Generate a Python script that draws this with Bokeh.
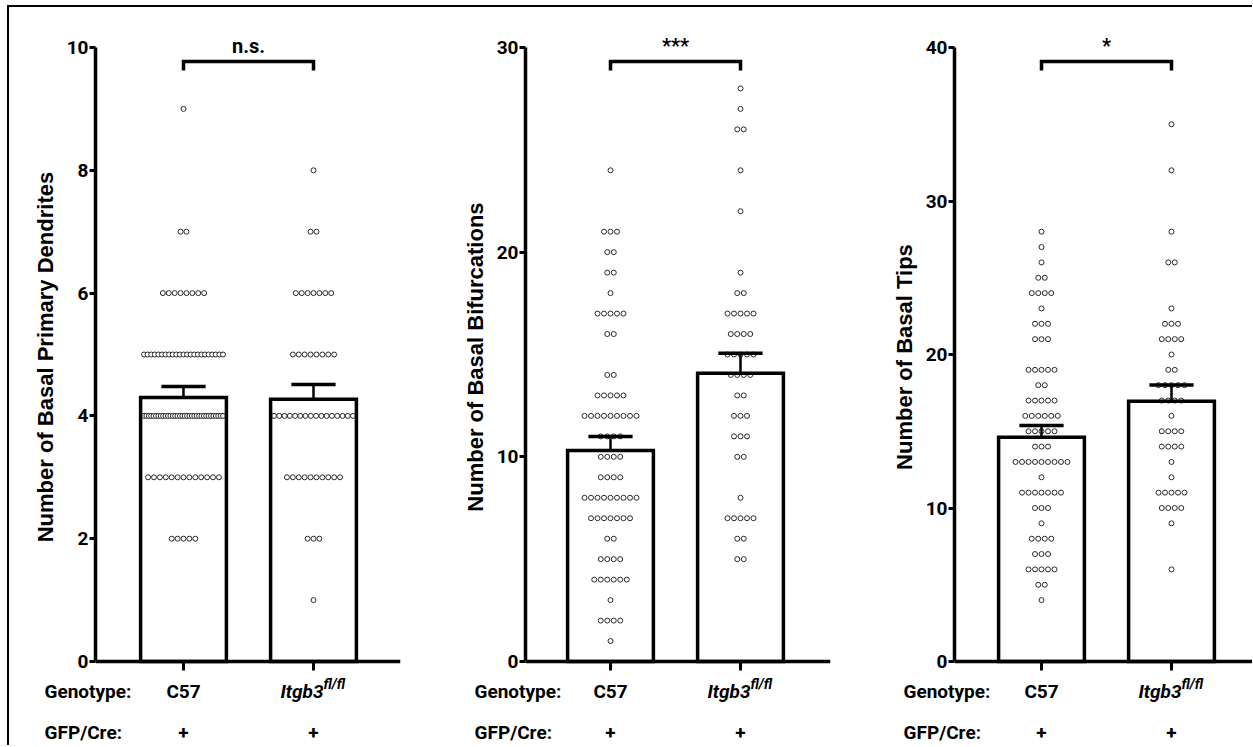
from bokeh.plotting import figure
from bokeh.layouts import row, column
from bokeh.models import FixedTicker, Range1d
from bokeh.core.properties import value
from bokeh.embed import file_html
from bokeh.resources import INLINE

# ---------------- data ----------------
groups = ["C57", "Itgb3"]
genotype_labels = ["C57", "Itgb3"]
genotype_sup = ["", "fl/fl"]
gfp_labels = ["+", "+"]
row_titles = ["Genotype:", "GFP/Cre:"]

# Panel 1: Number of Basal Primary Dendrites (value levels and number of cells per level)
dend_levels_c57 = [9, 7, 6, 5, 4, 3, 2]
dend_counts_c57 = [1, 2, 8, 23, 34, 13, 5]
dend_levels_itgb3 = [8, 7, 6, 5, 4, 3, 2, 1]
dend_counts_itgb3 = [1, 2, 7, 8, 16, 10, 3, 1]
dend_means = [4.30, 4.27]
dend_sem = [0.18, 0.24]
dend_sig = "n.s."

# Panel 2: Number of Basal Bifurcations
bif_levels_c57 = [24, 21, 20, 19, 18, 17, 16, 14, 13, 12, 11, 10, 9, 8, 7, 6, 5, 4, 3, 2, 1]
bif_counts_c57 = [1, 3, 2, 2, 1, 5, 2, 2, 5, 9, 4, 4, 4, 9, 7, 2, 4, 6, 1, 4, 1]
bif_levels_itgb3 = [28, 27, 26, 24, 22, 19, 18, 17, 16, 15, 14, 13, 12, 11, 10, 8, 7, 6, 5]
bif_counts_itgb3 = [1, 1, 2, 1, 1, 1, 2, 5, 4, 5, 4, 2, 3, 3, 2, 1, 5, 2, 2]
bif_means = [10.31, 14.08]
bif_sem = [0.68, 0.98]
bif_sig = "***"

# Panel 3: Number of Basal Tips
tips_levels_c57 = [28, 27, 26, 25, 24, 23, 22, 21, 19, 18, 17, 16, 15, 14, 13, 12, 11, 10, 9, 8, 7, 6, 5, 4]
tips_counts_c57 = [1, 1, 1, 2, 4, 1, 3, 3, 5, 2, 5, 6, 5, 3, 9, 1, 7, 3, 1, 4, 3, 5, 2, 1]
tips_levels_itgb3 = [35, 32, 28, 26, 23, 22, 21, 20, 19, 18, 17, 16, 15, 14, 13, 12, 11, 10, 9, 6]
tips_counts_itgb3 = [1, 1, 1, 2, 1, 3, 4, 1, 2, 5, 4, 1, 4, 4, 1, 1, 5, 4, 1, 1]
tips_means = [14.61, 16.96]
tips_sem = [0.76, 1.06]
tips_sig = "*"

# ---------------- styling / layout ----------------
FONT = "Roboto"
WIDE = "Liberation Sans"
PXU_X = 130.0                # pixels per category step
ORIGIN_X, ORIGIN_Y = 9, 7    # page position of the content (inside the frame lines)
AX_TOP, AX_BOTTOM = 47, 661  # page rows of axis max and 0
FRAME_TOP = 30
SPLIT_Y = 677                # page row where the label strip starts
PAGE_BOTTOM = 745
TOP_H = SPLIT_Y - ORIGIN_Y
BOT_H = PAGE_BOTTOM - SPLIT_Y
ROW0_Y, ROW1_Y = 691, 732    # anchor rows of the two label rows
TICK_END_Y = 670
SIG_Y = 45
LABEL_PAD = "\u00a0"         # keeps the rotated axis title centred on the 0..max axis


def style_fig(p):
    p.outline_line_color = None
    p.grid.visible = False
    p.background_fill_color = "white"
    p.border_fill_color = "white"


def make_panel(title, levels, counts, means, sems, sig, ymax, ystep,
               fig_left, fig_w, frame_left, frame_right, c1, dot_step_px):
    frame_w = frame_right - frame_left
    x0 = 1 - (c1 - frame_left) / PXU_X
    x1 = x0 + frame_w / PXU_X
    pxu = (AX_BOTTOM - AX_TOP) / ymax

    def dy(page_y):
        return (AX_BOTTOM - page_y) / pxu

    mb_left = frame_left - fig_left
    mb_right = fig_left + fig_w - frame_right
    p = figure(width=fig_w, height=TOP_H, output_backend="svg", toolbar_location=None,
               x_range=Range1d(x0, x1), y_range=Range1d(dy(SPLIT_Y), dy(FRAME_TOP)),
               min_border_left=mb_left, min_border_right=mb_right,
               min_border_top=FRAME_TOP - ORIGIN_Y, min_border_bottom=0,
               x_axis_type=None)
    style_fig(p)

    xs = [1, 2]
    p.vbar(x=xs, top=means, width=0.66, bottom=0, fill_color="white", line_color=None)

    step = dot_step_px / PXU_X
    maxw = 79 / PXU_X
    for gi in range(2):
        px, py = [], []
        for v, n in zip(levels[gi], counts[gi]):
            s = step if n <= 1 else min(step, maxw / (n - 1))
            for i in range(n):
                px.append(xs[gi] + (i - (n - 1) / 2) * s)
                py.append(v)
        p.scatter(px, py, marker="circle", size=5, fill_color="white",
                  line_color="#2a2a2a", line_width=1)

    p.vbar(x=xs, top=means, width=0.66, bottom=0, fill_alpha=0,
           line_color="black", line_width=3.5, line_join="miter")
    tops = [m + s for m, s in zip(means, sems)]
    p.segment(x0=xs, y0=means, x1=xs, y1=tops, line_color="black", line_width=2.5)
    p.segment(x0=[x - 0.17 for x in xs], y0=tops, x1=[x + 0.17 for x in xs], y1=tops,
              line_color="black", line_width=3.5)

    # baseline at 0 with category ticks
    p.segment(x0=[x0], y0=[0], x1=[x1], y1=[0], line_color="black", line_width=3.5)
    p.segment(x0=xs, y0=[0, 0], x1=xs, y1=[dy(TICK_END_Y)] * 2,
              line_color="black", line_width=3)

    br_top, br_leg = dy(61), dy(70)
    p.line([1, 1, 2, 2], [br_leg, br_top, br_top, br_leg], line_color="black",
           line_width=3.5, line_join="miter")
    p.text(x=[1.5], y=[dy(SIG_Y)], text=[sig], text_align="center", text_baseline="alphabetic",
           text_font=value(FONT), text_font_style="bold", text_font_size="20px",
           text_color="black")

    ya = p.yaxis[0]
    ya.ticker = FixedTicker(ticks=list(range(0, ymax + 1, ystep)))
    ya.bounds = (0, ymax)
    ya.axis_line_width = 3.5
    ya.major_tick_line_width = 3
    ya.major_tick_out = 6
    ya.major_tick_in = 0
    ya.minor_tick_line_color = None
    ya.major_label_standoff = 1
    ya.major_label_text_font = FONT
    ya.major_label_text_font_style = "bold"
    ya.major_label_text_font_size = "19px"
    ya.major_label_text_color = "black"
    ya.axis_label = title + LABEL_PAD
    ya.axis_label_text_font = WIDE
    ya.axis_label_text_font_style = "bold"
    ya.axis_label_text_font_size = "22px"
    ya.axis_label_standoff = 6
    ya.axis_label_text_color = "black"

    # strip below with the row labels, sharing the horizontal scale
    bx0 = x0 - mb_left / PXU_X
    bx1 = x1 + mb_right / PXU_X
    rpx = ROW1_Y - ROW0_Y

    def ry(page_y):
        return (page_y - ROW0_Y) / rpx

    q = figure(width=fig_w, height=BOT_H, output_backend="svg", toolbar_location=None,
               x_range=Range1d(bx0, bx1),
               y_range=Range1d(ry(PAGE_BOTTOM), ry(SPLIT_Y)),
               min_border=0, x_axis_type=None, y_axis_type=None)
    style_fig(q)
    kw = dict(text_font=value(FONT), text_font_style="bold", text_font_size="19px",
              text_color="black", text_baseline="alphabetic")
    xt = x0 + (frame_left - 51 - frame_left) / PXU_X
    q.text(x=[xt, xt], y=[0, 1], text=row_titles, text_align="left", **kw)
    q.text(x=[xs[0]], y=[0], text=[genotype_labels[0]], text_align="center", **kw)
    q.text(x=[xs[1] + 10 / PXU_X], y=[0], text=[genotype_labels[1]], text_align="right",
           text_font=value(FONT), text_font_style="bold italic", text_font_size="19px",
           text_color="black", text_baseline="alphabetic")
    q.text(x=[xs[1] + 10 / PXU_X], y=[-8 / rpx], text=[genotype_sup[1]], text_align="left",
           text_font=value(FONT), text_font_style="bold italic", text_font_size="14px",
           text_color="black", text_baseline="alphabetic")
    q.text(x=xs, y=[1, 1], text=gfp_labels, text_align="center", **kw)
    return p, q


p1, q1 = make_panel("Number of Basal Primary Dendrites",
                    [dend_levels_c57, dend_levels_itgb3], [dend_counts_c57, dend_counts_itgb3],
                    dend_means, dend_sem, dend_sig, 10, 2,
                    fig_left=ORIGIN_X, fig_w=431, frame_left=95, frame_right=400, c1=183,
                    dot_step_px=5.9)
p2, q2 = make_panel("Number of Basal Bifurcations",
                    [bif_levels_c57, bif_levels_itgb3], [bif_counts_c57, bif_counts_itgb3],
                    bif_means, bif_sem, bif_sig, 30, 10,
                    fig_left=440, fig_w=430, frame_left=525, frame_right=830, c1=610,
                    dot_step_px=6.5)
p3, q3 = make_panel("Number of Basal Tips",
                    [tips_levels_c57, tips_levels_itgb3], [tips_counts_c57, tips_counts_itgb3],
                    tips_means, tips_sem, tips_sig, 40, 10,
                    fig_left=870, fig_w=382, frame_left=954, frame_right=1252, c1=1041,
                    dot_step_px=6.5)

layout = column(row(p1, p2, p3, spacing=0), row(q1, q2, q3, spacing=0), spacing=0,
                styles={"border-top": "2px solid black", "border-left": "2px solid black",
                        "margin-top": "5px", "margin-left": "7px"})

open("out.html", "w").write(file_html(layout, INLINE))
